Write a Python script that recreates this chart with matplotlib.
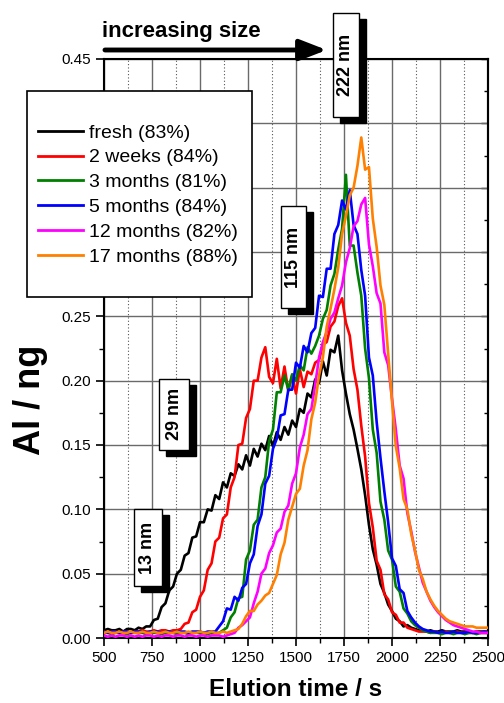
import numpy as np
import matplotlib
matplotlib.use("Agg")
import matplotlib.pyplot as plt
from matplotlib.patches import Rectangle
from matplotlib.lines import Line2D
from matplotlib.ticker import MultipleLocator, FormatStrFormatter

plt.rcParams['font.family'] = ['Liberation Sans', 'DejaVu Sans']

# elution time grid (s)
elution_time = np.arange(500, 2501, 20)

# Al mass (ng) per sample, one value per grid point
fresh = [
    .006, .007, .006, .006, .007, .005, .007, .007, .006, .008,
    .007, .009, .009, .014, .015, .024, .027, .037, .040, .050,
    .053, .064, .066, .078, .079, .090, .090, .100, .099, .111,
    .108, .121, .117, .128, .126, .135, .131, .142, .134, .147,
    .141, .151, .146, .157, .149, .160, .154, .164, .158, .169,
    .164, .178, .175, .190, .187, .201, .198, .215, .204, .224,
    .222, .235, .208, .190, .174, .162, .147, .131, .111, .088,
    .069, .057, .042, .035, .026, .021, .015, .013, .009, .010,
    .008, .007, .006, .006, .005, .006, .005, .005, .006, .005,
    .005, .005, .006, .005, .005, .005, .004, .005, .005, .005, .005]

weeks_2 = [
    .005, .004, .005, .005, .004, .005, .005, .004, .005, .005,
    .006, .005, .005, .006, .005, .006, .006, .005, .006, .006,
    .007, .011, .012, .020, .022, .032, .037, .053, .058, .075,
    .078, .093, .096, .117, .125, .150, .151, .171, .178, .200,
    .200, .218, .226, .203, .198, .217, .194, .211, .192, .204,
    .190, .209, .195, .207, .205, .214, .216, .228, .230, .242,
    .246, .258, .264, .245, .235, .209, .193, .165, .141, .105,
    .086, .060, .053, .034, .030, .020, .018, .012, .012, .008,
    .007, .006, .005, .005, .005, .004, .005, .004, .004, .005,
    .004, .004, .005, .004, .004, .004, .004, .005, .004, .004, .004]

months_3 = [
    .004, .004, .003, .004, .004, .004, .003, .004, .004, .004,
    .004, .003, .004, .004, .004, .003, .004, .004, .004, .003,
    .004, .004, .003, .004, .004, .004, .004, .003, .004, .004,
    .004, .006, .008, .016, .020, .031, .032, .061, .068, .088,
    .092, .117, .125, .153, .162, .191, .191, .204, .193, .205,
    .200, .212, .208, .226, .221, .227, .235, .248, .255, .274,
    .283, .302, .318, .360, .305, .305, .284, .266, .225, .202,
    .162, .144, .106, .092, .068, .061, .040, .036, .023, .019,
    .013, .010, .008, .006, .005, .004, .004, .004, .003, .004,
    .004, .003, .004, .004, .003, .004, .004, .003, .004, .004, .004]

months_5 = [
    .005, .004, .005, .005, .004, .005, .005, .004, .005, .005,
    .005, .004, .005, .005, .005, .004, .005, .005, .004, .005,
    .005, .005, .004, .005, .005, .005, .004, .005, .005, .005,
    .009, .013, .023, .022, .032, .029, .039, .042, .058, .065,
    .087, .096, .120, .126, .147, .155, .173, .174, .193, .193,
    .214, .210, .227, .222, .237, .241, .266, .265, .287, .287,
    .314, .321, .340, .333, .348, .321, .314, .286, .266, .218,
    .204, .168, .140, .114, .090, .062, .056, .038, .035, .021,
    .016, .012, .009, .007, .006, .005, .005, .004, .005, .004,
    .004, .005, .004, .004, .004, .005, .004, .004, .004, .005, .004]

months_12 = [
    .002, .001, .002, .001, .002, .002, .001, .002, .001, .002,
    .001, .002, .002, .001, .002, .001, .002, .002, .001, .002,
    .002, .001, .002, .002, .001, .002, .002, .001, .002, .002,
    .002, .001, .002, .003, .004, .008, .010, .013, .016, .027,
    .036, .050, .054, .066, .072, .082, .085, .098, .103, .120,
    .128, .148, .158, .174, .178, .197, .218, .230, .238, .248,
    .253, .264, .274, .292, .303, .320, .324, .337, .342, .306,
    .289, .268, .260, .222, .212, .186, .162, .134, .124, .097,
    .083, .067, .055, .043, .036, .029, .024, .020, .017, .014,
    .012, .010, .009, .008, .007, .006, .005, .005, .004, .004, .004]

months_17 = [
    .004, .005, .004, .004, .005, .004, .004, .005, .004, .004,
    .005, .004, .004, .005, .004, .004, .005, .004, .004, .005,
    .004, .004, .005, .004, .004, .005, .004, .004, .005, .004,
    .004, .005, .004, .005, .006, .007, .011, .017, .021, .021,
    .026, .029, .033, .035, .042, .049, .065, .074, .092, .102,
    .112, .116, .134, .146, .170, .183, .204, .218, .242, .256,
    .271, .288, .314, .328, .344, .350, .367, .389, .364, .366,
    .326, .304, .274, .259, .221, .184, .149, .132, .108, .100,
    .081, .068, .053, .046, .036, .030, .025, .021, .018, .015,
    .013, .012, .011, .010, .009, .009, .009, .008, .008, .008, .008]

series = [fresh, weeks_2, months_3, months_5, months_12, months_17]
series_labels = ["fresh (83%)", "2 weeks (84%)", "3 months (81%)",
                 "5 months (84%)", "12 months (82%)", "17 months (88%)"]
series_colors = ["#000000", "#ff0000", "#008000", "#0000ff", "#ff00ff", "#ff8000"]

# particle size markers: label, elution time, height on the Al axis
size_labels = ["13 nm", "29 nm", "115 nm", "222 nm"]
size_times = [729, 865, 1487, 1760]
size_levels = [0.070, 0.174, 0.296, 0.445]
size_box_px = [(28, 77), (30, 71), (25, 102), (26, 104)]

W, H = 504, 703
fig = plt.figure(figsize=(W / 100, H / 100), dpi=100)
ax_l, ax_r, ax_t, ax_b = 104, 488, 59, 638
ax = fig.add_axes([ax_l / W, 1 - ax_b / H, (ax_r - ax_l) / W, (ax_b - ax_t) / H])

for vals, lab, col in zip(series, series_labels, series_colors):
    ax.plot(elution_time, vals, color=col, lw=1.9, label=lab, zorder=3)

ax.set_xlim(500, 2500)
ax.set_ylim(0, 0.45)
ax.xaxis.set_major_locator(MultipleLocator(250))
ax.xaxis.set_minor_locator(MultipleLocator(125))
ax.yaxis.set_major_locator(MultipleLocator(0.05))
ax.yaxis.set_minor_locator(MultipleLocator(0.025))
ax.yaxis.set_major_formatter(FormatStrFormatter('%.2f'))

ax.grid(which='major', color='#6a6a6a', lw=1.0, ls='-', zorder=0)
ax.xaxis.grid(which='minor', color='#555555', lw=0.8, ls=(0, (1, 2)))
ax.set_axisbelow(True)

ax.tick_params(axis='both', which='major', direction='out', length=6, width=1.2,
               labelsize=11, pad=3)
ax.tick_params(axis='both', which='minor', direction='out', length=3.5, width=1.0)
for sp in ax.spines.values():
    sp.set_linewidth(1.5)

right = ax.secondary_yaxis('right')
right.yaxis.set_major_locator(MultipleLocator(0.05))
right.yaxis.set_minor_locator(MultipleLocator(0.025))
right.tick_params(which='both', direction='in', labelright=False, width=1.0)
right.tick_params(which='major', length=5)
right.tick_params(which='minor', length=3)
right.spines['right'].set_linewidth(1.5)

ax.set_xlabel('Elution time / s', fontsize=17.5, fontweight='bold')
ax.xaxis.set_label_coords(0.5, -(678 - ax_b) / (ax_b - ax_t))
ax.set_ylabel('Al / ng', fontsize=26, fontweight='bold')
ax.yaxis.label.set_verticalalignment('center')
ax.yaxis.label.set_horizontalalignment('center')
ax.yaxis.set_label_coords((30 - ax_l) / (ax_r - ax_l), (ax_b - 400) / (ax_b - ax_t))

# data units per pixel
dx = 2000 / (ax_r - ax_l)
dy = 0.45 / (ax_b - ax_t)

for lab, t, v, (bw, bh) in zip(size_labels, size_times, size_levels, size_box_px):
    w, h = bw * dx, bh * dy
    ax.add_patch(Rectangle((t - w / 2 + 7 * dx, v - h / 2 - 6 * dy), w, h,
                           facecolor='black', edgecolor='black', lw=1,
                           zorder=9, clip_on=False))
    ax.add_patch(Rectangle((t - w / 2, v - h / 2), w, h, facecolor='white',
                           edgecolor='black', lw=1, zorder=10, clip_on=False))
    ax.text(t, v, lab, rotation=90, ha='center', va='center', fontsize=13,
            fontweight='bold', zorder=11, clip_on=False)

# direction of increasing particle size
ax.annotate('', xy=(1660, 0.457), xytext=(505, 0.457),
            arrowprops=dict(arrowstyle='-|>,head_length=0.9,head_width=0.35',
                            lw=3.5, color='black', mutation_scale=18,
                            shrinkA=0, shrinkB=0, capstyle='round'),
            annotation_clip=False)
ax.text(490, 0.471, 'increasing size', fontsize=16, fontweight='bold',
        ha='left', va='center', clip_on=False)

# legend with its own frame
frame = Rectangle((27 / W, 1 - 297 / H), 225 / W, 206 / H, transform=fig.transFigure,
                  facecolor='white', edgecolor='black', lw=1.2, zorder=3)
fig.patches.append(frame)
handles = [Line2D([], [], color=c, lw=2) for c in series_colors]
fig.legend(handles, series_labels, loc='upper left',
           bbox_to_anchor=(38 / W, 1 - 124 / H), frameon=False, fontsize=14,
           handlelength=2.3, handletextpad=0.3, labelspacing=0.37,
           borderpad=0, borderaxespad=0)

fig.savefig('out.png', dpi=100)
